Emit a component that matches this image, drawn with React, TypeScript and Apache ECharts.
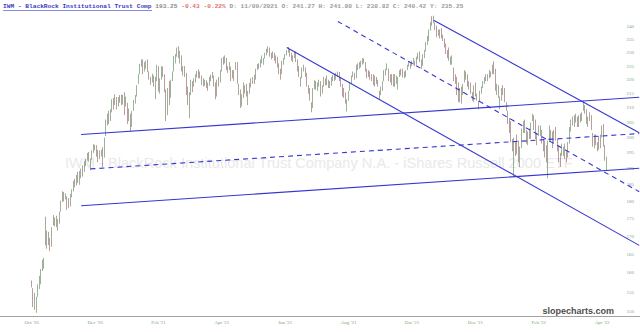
import React, { useEffect, useRef } from "react";
import * as echarts from "echarts";

// ---------- calendar ----------
const FIRST_SLOT = "2020-09-29";
const SLOT_COUNT = 414;
const LEAD_SLOTS = 20; // empty trading days before the first candle
const LABEL_EVERY = 41;
const HOLIDAYS = [
  "2020-11-26", "2020-12-25", "2021-01-01", "2021-01-18", "2021-02-15", "2021-04-02",
  "2021-05-31", "2021-07-05", "2021-09-06", "2021-11-25", "2021-12-24", "2022-01-17",
  "2022-02-21", "2022-04-15", "2022-05-30", "2022-06-20",
];
const MONTHS = ["Jan", "Feb", "Mar", "Apr", "May", "Jun", "Jul", "Aug", "Sep", "Oct", "Nov", "Dec"];

// ---------- daily candles: [open, close, low, high] ----------
const oct20 = [[157.5,157.0,156.2,158.0],[155.8,151.6,151.2,156.0],[151.8,153.6,150.5,154.8],[152.8,152.9,149.8,153.8]];
const nov20 = [
  [154.5,156.0,153.8,157.0],[156.8,158.5,155.8,159.2],[159.0,160.2,157.0,161.0],[161.5,162.8,160.5,163.5],[162.5,163.5,161.0,164.0],
  [174.8,168.0,167.4,175.5],[168.5,170.2,166.5,171.5],[170.5,168.8,167.5,171.2],[168.5,166.5,165.8,169.5],[167.5,172.0,167.0,172.5],
  [174.0,175.2,173.0,176.0],[174.5,174.0,172.8,175.3],[174.5,173.0,172.5,175.8],[172.5,174.2,171.5,174.8],[174.0,176.5,173.5,177.0],
  [177.5,179.5,177.0,180.2],[180.5,182.5,179.8,183.0],[182.3,181.0,180.0,182.8],[181.5,181.8,180.6,182.4],[181.0,178.8,177.5,181.5],
];
const dec20 = [
  [180.0,179.5,178.0,181.0],[179.0,181.8,178.5,182.2],[182.0,182.8,181.2,183.6],[183.2,185.8,183.0,186.2],[186.0,185.2,184.2,186.8],
  [185.0,187.5,184.8,188.0],[188.0,186.2,185.5,189.0],[185.5,188.5,185.0,189.2],[188.0,189.5,187.0,190.0],[190.5,188.0,187.5,191.0],
  [189.5,191.8,189.0,192.3],[192.0,192.2,190.8,193.0],[193.0,194.6,192.5,195.0],[194.8,193.5,192.2,195.3],[191.0,192.5,189.5,193.2],
  [193.0,195.3,192.8,195.8],[195.8,197.0,195.0,197.8],[197.2,196.5,195.8,197.6],[197.0,194.5,193.8,197.5],[195.5,192.8,192.0,196.0],
  [193.5,195.2,193.0,195.8],[195.0,195.5,193.8,196.0],
];
const jan21 = [
  [196.5,192.5,190.5,196.8],[194.0,199.5,193.5,200.0],[201.0,203.5,200.5,206.0],[204.5,207.5,204.0,208.0],[208.5,206.8,204.5,209.0],
  [206.0,208.5,205.5,209.5],[209.0,212.5,208.5,213.0],[212.5,210.3,209.5,213.5],[211.5,214.0,211.0,214.8],[213.0,211.0,209.5,213.8],
  [212.0,213.2,210.5,213.8],[214.0,213.5,211.8,214.5],[214.0,211.8,211.0,214.6],[211.5,214.0,211.2,214.6],[214.5,211.0,207.5,215.5],
  [212.0,213.0,210.5,214.0],[211.5,205.5,204.5,211.8],[206.5,208.0,205.5,209.8],[207.5,203.5,202.0,208.0],
];
const feb21 = [
  [204.5,208.5,203.5,209.0],[209.5,212.0,209.0,212.8],[212.5,213.5,211.5,214.5],[214.5,217.5,214.0,218.0],[219.0,221.5,218.5,222.0],
  [222.5,225.0,222.0,225.8],[225.5,226.8,224.8,227.5],[227.0,224.5,222.0,227.5],[225.5,225.8,223.0,226.5],[225.0,226.5,224.0,227.0],
  [227.0,223.5,222.8,227.5],[222.5,222.0,220.0,223.0],[220.5,219.5,218.2,221.0],[220.0,221.5,219.0,222.2],[220.5,218.0,217.5,221.5],
  [216.0,220.5,213.0,221.0],[220.0,225.0,219.5,225.5],[224.5,216.5,215.8,225.0],[218.0,218.5,215.0,220.5],
];
const mar21 = [
  [220.5,224.5,220.0,225.0],[224.0,221.5,221.0,224.8],[221.5,216.0,215.5,222.0],[215.5,210.5,205.5,216.5],[212.0,216.5,207.5,217.0],
  [218.0,212.0,211.0,219.5],[214.0,219.0,213.5,220.0],[220.5,222.0,219.5,223.0],[223.5,228.0,223.0,228.8],[227.0,229.0,226.0,229.5],
  [229.5,231.5,228.5,232.0],[231.5,228.5,228.0,232.5],[228.0,230.0,226.0,230.8],[228.5,223.5,223.0,229.0],[223.0,224.5,221.5,225.0],
  [224.5,222.0,221.0,225.0],[222.0,215.0,214.5,222.5],[216.5,211.5,211.0,217.5],[210.5,215.0,206.5,215.5],[215.5,219.5,214.5,220.0],
  [219.0,217.5,215.5,219.5],[218.0,220.0,217.5,220.5],[220.0,221.0,219.0,222.0],
];
const apr21 = [
  [221.5,222.5,220.8,223.2],[223.0,222.0,220.5,223.8],[222.0,221.5,220.5,223.0],[221.0,218.5,218.0,221.5],[219.5,219.5,217.5,220.5],
  [219.0,219.2,217.8,220.0],[219.0,218.5,217.0,219.8],[218.5,217.5,216.0,219.0],[218.0,220.5,217.8,221.0],[221.0,220.8,219.5,221.8],
  [221.5,222.0,220.5,222.8],[221.0,218.5,217.5,221.5],[218.5,214.0,213.0,219.0],[214.5,219.5,214.0,220.0],[219.0,219.0,217.5,221.0],
  [219.5,223.0,219.0,223.5],[223.5,227.5,223.0,228.0],[227.0,227.0,225.5,228.5],[227.0,228.0,226.0,229.0],[227.5,225.0,223.5,228.0],
  [224.5,224.0,222.5,225.0],
];
const may21 = [
  [225.0,225.5,223.5,226.5],[224.5,221.5,219.5,224.8],[222.5,222.0,220.5,223.5],[222.0,223.0,219.5,223.5],[224.0,225.5,223.5,226.5],
  [226.0,219.0,218.5,226.5],[215.5,218.0,214.5,218.5],[216.0,210.5,210.0,216.5],[212.0,213.0,210.5,214.8],[214.0,218.5,213.5,219.0],
  [217.5,216.5,215.0,218.0],[217.0,214.5,214.0,218.5],[212.0,215.5,211.0,216.0],[215.5,218.0,215.0,218.8],[218.5,218.3,217.2,220.5],
  [219.0,220.5,218.5,221.0],[221.0,220.0,218.5,221.8],[220.5,223.5,220.0,224.0],[224.0,225.0,223.5,225.8],[225.5,224.5,224.0,226.0],
];
const jun21 = [
  [226.0,226.5,224.5,227.5],[227.0,228.5,226.0,229.0],[227.0,227.5,225.5,228.0],[228.0,229.5,227.8,230.0],[229.5,230.8,229.0,231.5],
  [231.0,231.5,230.0,232.5],[231.5,229.0,228.5,232.0],[229.5,228.5,227.5,230.0],[229.0,230.0,228.0,230.5],[229.5,228.8,227.0,230.0],
  [228.5,227.5,226.0,229.0],[227.5,226.0,224.5,228.5],[225.5,224.5,222.0,226.0],[223.5,221.0,220.0,224.0],[222.5,226.5,222.0,227.0],
  [226.5,227.5,225.5,228.0],[228.0,228.8,227.5,229.5],[229.5,230.5,229.0,231.0],[230.5,231.5,230.0,232.2],[231.0,229.5,228.5,231.5],
  [229.5,227.5,227.0,230.0],[227.5,228.5,226.5,229.0],
];
const jul21 = [
  [229.0,229.8,228.0,230.5],[230.0,227.0,226.5,230.5],[227.0,224.0,223.0,227.5],[224.0,222.5,221.0,225.0],[219.5,220.0,217.5,221.0],
  [221.0,224.0,220.5,224.5],[224.5,224.5,223.0,225.5],[224.0,221.5,221.0,224.5],[222.0,218.0,217.5,222.5],[217.5,215.5,215.0,218.0],
  [216.5,213.0,212.5,217.0],[211.0,210.0,208.5,212.0],[210.5,216.5,210.0,217.0],[217.0,219.0,216.5,219.8],[219.0,217.5,216.5,219.5],
  [218.0,218.5,216.0,219.0],[218.5,219.5,217.5,220.0],[219.0,215.5,214.0,219.5],[216.0,217.0,215.0,218.0],[218.0,220.5,217.5,221.0],
  [219.5,219.5,218.0,220.5],
];
const aug21 = [
  [220.5,218.5,218.0,221.5],[219.0,219.5,217.0,220.0],[219.0,217.5,217.0,219.5],[218.0,220.5,217.8,221.0],[220.5,221.0,219.5,221.8],
  [221.0,220.5,219.5,222.0],[221.0,221.5,220.0,222.5],[222.0,222.5,221.0,223.0],[222.5,220.5,219.5,222.8],[220.5,218.5,217.5,221.0],
  [218.0,217.5,214.0,218.5],[216.5,214.5,213.5,217.0],[214.5,212.0,211.5,215.5],[210.5,212.5,208.8,213.0],[213.0,215.5,212.5,216.0],
  [216.5,218.5,216.0,219.0],[219.0,221.0,218.5,221.5],[221.5,222.5,221.0,223.0],[222.0,220.5,220.0,222.5],[221.0,225.0,220.5,225.5],
  [225.5,224.5,223.5,226.0],[224.5,225.5,224.0,226.5],
];
const sep21 = [
  [226.0,226.0,224.5,227.0],[226.5,227.5,225.5,228.0],[227.0,226.5,226.0,227.8],[226.0,223.5,223.0,226.5],[223.5,222.0,220.5,224.0],
  [222.5,221.5,221.0,223.5],[222.0,220.5,220.0,223.0],[221.5,221.0,219.5,222.0],[221.5,218.5,218.0,222.0],[219.0,221.0,217.5,221.5],
  [220.5,220.0,218.5,221.0],[219.5,218.0,217.5,220.0],[215.5,215.0,212.8,216.0],[216.0,216.0,214.5,217.5],[216.5,219.0,216.0,219.5],
  [220.0,223.0,219.5,223.5],[222.5,223.5,221.5,224.0],[224.0,225.0,223.5,226.0],[223.5,220.5,219.5,224.0],[221.5,220.0,219.0,222.0],
  [221.0,218.5,218.0,222.0],
];
const oct21 = [
  [219.5,221.5,217.5,222.0],[221.0,219.0,217.5,222.0],[219.5,220.5,218.5,221.5],[218.5,220.8,216.5,221.0],[222.0,222.5,221.0,223.5],
  [223.0,222.5,221.5,224.0],[222.5,221.0,220.8,224.0],[221.5,221.8,220.5,223.0],[222.5,222.5,221.0,223.5],[224.0,225.0,223.5,225.5],
  [225.5,226.0,224.8,226.8],[225.5,225.0,224.0,226.0],[225.5,226.5,225.0,227.0],[227.0,227.0,225.5,228.0],[226.5,226.0,225.0,227.0],
  [226.5,227.5,225.5,228.5],[228.0,229.5,227.5,230.0],[230.0,227.0,226.5,230.5],[227.0,224.5,224.0,227.5],[225.5,229.0,225.0,229.5],
  [229.0,230.5,228.0,231.0],
];
const nov21 = [
  [231.0,233.5,230.5,234.0],[234.0,236.0,233.0,236.5],[236.0,238.5,234.5,239.0],[239.5,241.5,238.5,242.0],[243.0,242.0,240.5,244.3],
  [242.5,243.5,241.5,244.5],[241.27,240.42,238.82,241.8],[239.5,237.0,236.0,240.5],[237.5,238.0,236.5,239.0],[238.5,237.0,235.5,239.0],
  [238.0,236.5,235.5,239.5],[236.5,235.5,234.5,237.0],[235.0,232.5,232.0,235.5],[233.0,230.5,229.5,233.5],[230.5,229.0,228.0,231.0],
  [230.0,227.5,227.0,232.0],[227.5,228.0,225.5,228.5],[227.0,228.5,225.5,229.0],[223.5,220.0,219.5,224.5],[221.0,220.5,218.5,222.0],
  [219.5,215.0,214.5,221.0],
];
const dec21 = [
  [218.0,212.5,212.0,219.0],[213.0,216.5,212.0,217.0],[216.5,213.5,211.5,217.5],[215.0,218.0,214.5,218.5],[219.5,223.0,219.0,223.5],
  [222.5,222.0,220.0,223.0],[221.5,218.0,217.5,222.0],[219.0,218.5,216.5,219.5],[218.5,215.5,215.0,219.0],[215.0,214.0,212.5,215.5],
  [214.0,217.5,212.0,218.0],[218.5,215.0,214.0,219.0],[214.5,213.5,212.5,215.0],[212.0,211.0,209.5,212.5],[212.5,215.5,212.0,216.0],
  [215.5,217.0,215.0,217.5],[217.5,219.0,217.0,219.5],[219.0,220.5,218.5,221.0],[221.0,220.5,219.5,222.0],[220.5,221.5,219.5,222.0],
  [221.5,222.0,220.5,223.5],[222.5,222.0,221.0,223.0],
];
const jan22 = [
  [223.0,225.0,222.0,225.5],[225.5,224.0,222.0,226.8],[223.5,216.5,216.0,224.0],[216.5,217.0,214.5,218.5],[217.5,214.0,213.5,218.0],
  [213.0,213.5,209.5,214.0],[213.5,216.5,212.5,217.0],[217.5,215.5,214.5,218.0],[216.0,212.5,212.0,217.0],[211.5,210.5,209.0,212.0],
  [208.5,205.0,204.5,209.0],[205.5,202.0,201.5,206.5],[203.5,199.0,198.5,205.5],[198.5,196.5,195.5,199.5],[194.5,199.5,187.5,200.0],
  [197.5,196.5,194.0,198.5],[199.0,195.5,194.5,201.0],[197.0,193.0,192.0,199.0],[193.5,196.5,190.5,197.0],[197.0,202.5,196.5,203.0],
];
const feb22 = [
  [203.0,205.0,201.5,205.5],[205.5,203.0,201.5,206.0],[201.0,199.5,198.0,202.5],[199.0,201.0,197.5,202.0],[201.5,201.0,199.5,203.0],
  [200.5,204.5,199.5,205.0],[206.5,207.5,205.5,208.0],[204.5,204.5,202.5,207.5],[205.0,200.5,199.5,206.0],[200.0,199.5,197.5,201.5],
  [202.0,203.5,200.5,204.0],[203.0,203.5,200.5,204.0],[202.0,198.5,198.0,202.5],[198.5,197.0,195.5,199.5],[196.5,195.5,193.5,199.0],
  [197.0,192.5,192.0,197.5],[188.5,198.5,187.0,199.0],[199.5,203.5,198.5,204.0],[201.0,201.0,199.0,202.5],
];
const mar22 = [
  [201.0,197.5,196.5,202.0],[198.5,202.0,198.0,202.5],[203.0,199.5,199.0,203.5],[198.5,197.0,195.5,199.5],[196.5,192.5,192.0,197.5],
  [192.0,191.8,190.5,195.0],[194.5,197.5,194.0,198.0],[195.5,196.0,194.0,197.0],[197.5,193.5,193.0,198.0],[194.0,193.5,192.0,195.5],
  [194.5,198.0,193.5,198.5],[199.5,203.0,198.0,203.5],[202.5,205.5,202.0,206.0],[204.5,206.5,204.0,207.0],[206.5,205.0,203.5,207.5],
  [205.5,207.5,205.0,208.0],[206.0,204.0,203.5,207.0],[204.5,207.0,203.5,207.5],[207.5,207.0,205.0,208.0],[206.5,208.0,205.5,208.5],
  [210.0,211.5,209.0,212.5],[210.5,209.0,208.0,211.0],[209.0,205.0,204.5,209.5],
];
const apr22 = [
  [206.0,206.0,203.5,207.0],[206.5,207.5,205.5,208.5],[207.0,203.0,202.5,207.5],[201.0,199.5,197.0,201.5],[199.5,200.5,196.5,201.0],
  [200.5,198.5,197.5,201.0],[197.0,196.0,195.5,198.5],[198.5,197.0,196.0,200.5],[197.0,200.5,196.5,201.0],[201.0,202.5,200.0,204.0],
  [203.5,197.5,197.0,204.5],[197.0,193.7,192.5,197.5],[191.0,193.25,189.5,193.8],
];
const CANDLES = [
  ...oct20, ...nov20, ...dec20, ...jan21, ...feb21, ...mar21, ...apr21, ...may21, ...jun21,
  ...jul21, ...aug21, ...sep21, ...oct21, ...nov21, ...dec21, ...jan22, ...feb22, ...mar22, ...apr22,
];

// ---------- axis ticks ----------
const PRICE_TICKS = [150, 155, 160, 165, 170, 175, 180, 185, 190, 195, 200, 205, 210, 215, 220, 225, 230, 235, 240];
const PRICE_MIN = 149.0;
const PRICE_MAX = 246.8;

// ---------- drawn trend lines: [slot index, price] ----------
const TRENDLINES = [
  { name: "riseTop", dashed: false, from: [52, 201.0], to: [413, 213.7] },
  { name: "riseBottom", dashed: false, from: [52, 178.7], to: [413, 190.1] },
  { name: "riseMid", dashed: true, from: [58, 189.9], to: [413, 201.3] },
  { name: "fallLow", dashed: false, from: [185, 232.0], to: [413, 167.4] },
  { name: "fallHigh", dashed: false, from: [280, 242.7], to: [413, 201.6] },
  { name: "fallMid", dashed: true, from: [218, 242.2], to: [413, 182.9] },
];

// ---------- texts ----------
const TICKER_NAME = "IWM - BlackRock Institutional Trust Comp";
const LAST_PRICE = "193.25";
const LAST_CHANGE = "-0.43 -0.22%";
const BAR_INFO = "D: 11/09/2021 O: 241.27 H: 241.80 L: 238.82 C: 240.42 Y: 235.25";
const WATERMARK = "IWM - BlackRock Institutional Trust Company N.A. - iShares Russell 2000 ETF";
const BRAND = "slopecharts.com";

function tradingDays(start: string, count: number, holidays: string[]): string[] {
  const out: string[] = [];
  const d = new Date(start + "T00:00:00Z");
  while (out.length < count) {
    const wd = d.getUTCDay();
    const s = d.toISOString().slice(0, 10);
    if (wd !== 0 && wd !== 6 && holidays.indexOf(s) < 0) out.push(s);
    d.setUTCDate(d.getUTCDate() + 1);
  }
  return out;
}

export default function App() {
  const ref = useRef<HTMLDivElement>(null);
  useEffect(() => {
    if (!ref.current) return;
    const chart = echarts.init(ref.current, undefined, { renderer: "svg" });
    const dates = tradingDays(FIRST_SLOT, SLOT_COUNT, HOLIDAYS);
    const candleData = CANDLES.map((c, i) => [dates[LEAD_SLOTS + i], c[0], c[1], c[2], c[3]]);
    const labelColor = "#79a879";
    const lineColor = "#3636d2";

    const lineSeries = TRENDLINES.map((t) => ({
      type: "line",
      name: t.name,
      yAxisIndex: 0,
      data: [
        [dates[t.from[0]], t.from[1]],
        [dates[t.to[0]], t.to[1]],
      ],
      symbol: "none",
      silent: true,
      z: 5,
      lineStyle: { color: lineColor, width: 1.1, type: t.dashed ? [5, 4] : "solid" },
    }));

    chart.setOption({
      animation: false,
      backgroundColor: "#ffffff",
      title: {
        text: `{n|${TICKER_NAME}} {p|${LAST_PRICE}} {c|${LAST_CHANGE}} {g|${BAR_INFO}}`,
        left: 3,
        top: 3,
        padding: 0,
        textStyle: {
          fontFamily: "Liberation Mono",
          fontSize: 6.2,
          rich: {
            n: { fontFamily: "Liberation Mono", fontSize: 6.2, color: "#3a3ac8", fontWeight: "bold" },
            p: { fontFamily: "Liberation Mono", fontSize: 6.2, color: "#8a8a8a" },
            c: { fontFamily: "Liberation Mono", fontSize: 6.2, color: "#e07070" },
            g: { fontFamily: "Liberation Mono", fontSize: 6.2, color: "#9a9a9a" },
          },
        },
      },
      graphic: [
        {
          type: "text",
          left: 65,
          top: 155,
          z: 0,
          silent: true,
          style: { text: WATERMARK, fontFamily: "Liberation Sans", fontSize: 14.6, fill: "#e9e9e9" },
        },
        {
          type: "text",
          right: 26,
          top: 306,
          z: 10,
          silent: true,
          style: { text: BRAND, fontFamily: "Liberation Sans", fontWeight: "bold", fontSize: 9, fill: "#4d4d4d" },
        },
        {
          type: "line",
          z: 10,
          silent: true,
          shape: { x1: 3, y1: 10.5, x2: 152, y2: 10.5 },
          style: { stroke: "#3a3ac8", lineWidth: 0.6 },
        },
      ],
      grid: { left: 0, right: 0, top: 10, bottom: 16, containLabel: false },
      xAxis: {
        type: "category",
        data: dates,
        boundaryGap: true,
        axisLine: { show: true, lineStyle: { color: "#a3a3a3", width: 1 } },
        axisTick: { show: false },
        splitLine: { show: false },
        axisLabel: {
          interval: (index: number) => index >= LEAD_SLOTS && (index - LEAD_SLOTS) % LABEL_EVERY === 0,
          formatter: (v: string) => `${MONTHS[Number(v.slice(5, 7)) - 1]} '${v.slice(2, 4)}`,
          color: labelColor,
          fontSize: 5,
          fontFamily: "Liberation Serif",
          margin: 4,
        },
      },
      yAxis: [
        {
          type: "log",
          logBase: 10,
          min: PRICE_MIN,
          max: PRICE_MAX,
          position: "right",
          axisLine: { show: false },
          axisTick: { show: false },
          splitLine: { show: false },
          axisLabel: { show: false },
        },
        {
          type: "value",
          min: Math.log(PRICE_MIN),
          max: Math.log(PRICE_MAX),
          position: "right",
          axisLine: { show: false },
          axisTick: { show: false },
          splitLine: { show: false },
          axisLabel: {
            inside: true,
            margin: 6,
            customValues: PRICE_TICKS.map((p) => Math.log(p)),
            formatter: (v: number) => String(Math.round(Math.exp(v))),
            color: labelColor,
            fontSize: 5,
            fontFamily: "Liberation Serif",
          },
        },
      ],
      series: [
        {
          type: "candlestick",
          yAxisIndex: 0,
          data: candleData,
          encode: { x: 0, y: [1, 2, 3, 4] },
          barWidth: "80%",
          z: 3,
          itemStyle: {
            color: "#84c084",
            color0: "#cc8686",
            borderColor: "#557f55",
            borderColor0: "#8a5c5c",
            borderWidth: 0.6,
          },
        },
        ...lineSeries,
      ],
    });
    return () => chart.dispose();
  }, []);
  return <div ref={ref} style={{ position: "fixed", left: 0, top: 0, width: 640, height: 332 }} />;
}
